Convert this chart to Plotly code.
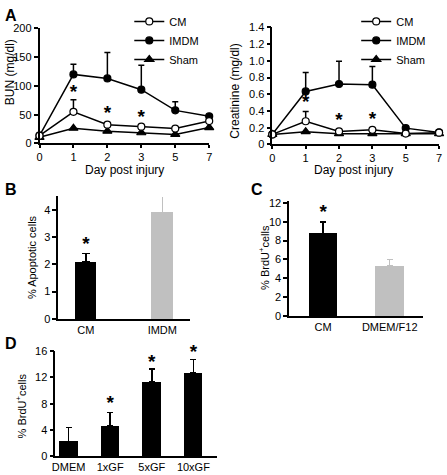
import plotly.graph_objects as go

# ---------------- data ----------------
days = ["0", "1", "2", "3", "5", "7"]

bun_cm = [13.5, 55, 32.6, 29.2, 25.9, 38.9]
bun_cm_err = [0, 21, 0, 0, 0, 0]
bun_imdm = [13.5, 120, 113, 93.5, 57.5, 47.3]
bun_imdm_err = [0, 17.5, 45, 42.3, 15.2, 0]
bun_sham = [10.7, 26.4, 21.3, 18.6, 15.7, 27.6]
bun_star_days = ["1", "2", "3"]
bun_star_y = [88, 51, 44]

cr_cm = [0.12, 0.277, 0.155, 0.175, 0.13, 0.14]
cr_cm_err = [0, 0.117, 0, 0, 0, 0]
cr_imdm = [0.12, 0.634, 0.723, 0.715, 0.195, 0.144]
cr_imdm_err = [0, 0.226, 0.272, 0.218, 0, 0]
cr_sham = [0.12, 0.152, 0.128, 0.128, 0.128, 0.128]
cr_star_days = ["1", "2", "3"]
cr_star_y = [0.49, 0.28, 0.29]

apo_groups = ["CM", "IMDM"]
apo_vals = [2.10, 3.90]
apo_err = [0.29, 0.56]
apo_star_groups = ["CM"]
apo_star_y = [2.68]

brdu_c_groups = ["CM", "DMEM/F12"]
brdu_c_vals = [8.76, 5.3]
brdu_c_err = [1.2, 0.7]
brdu_c_star_groups = ["CM"]
brdu_c_star_y = [10.85]

brdu_d_groups = ["DMEM", "1xGF", "5xGF", "10xGF"]
brdu_d_vals = [2.27, 4.64, 11.3, 12.64]
brdu_d_err = [2.08, 2.03, 2.0, 2.06]
brdu_d_star_groups = ["1xGF", "5xGF", "10xGF"]
brdu_d_star_y = [7.85, 14.2, 15.7]

# ---------------- styling ----------------
W, H = 447, 475
FONT = "Liberation Sans, Arial, sans-serif"
BLACK = "#000000"
GRAY = "#c0c0c0"


def px_x(a, b):
    return [a / W, b / W]


def px_y(top, bottom):
    return [1 - bottom / H, 1 - top / H]


fig = go.Figure()


def line_trace(y, err, name, symbol, fill, xa, ya, legend):
    kw = {}
    if err is not None:
        kw["error_y"] = dict(type="data", array=err, arrayminus=[0] * len(err),
                             symmetric=False, color=BLACK, thickness=1.5, width=3)
    return go.Scatter(
        x=days, y=y, name=name, mode="lines+markers",
        line=dict(color=BLACK, width=1.5),
        marker=dict(symbol=symbol, size=7 if symbol != "triangle-up" else 8,
                    color=fill, line=dict(color=BLACK, width=1.2)),
        xaxis=xa, yaxis=ya, legend=legend, cliponaxis=False, **kw)


def star_trace(xs, ys, xa, ya):
    return go.Scatter(x=xs, y=ys, mode="text", text=["<b>*</b>"] * len(xs),
                      textposition="middle center",
                      textfont=dict(family=FONT, size=19, color=BLACK),
                      xaxis=xa, yaxis=ya, showlegend=False, cliponaxis=False,
                      hoverinfo="skip")


# Panel A left (BUN)
fig.add_trace(line_trace(bun_sham, None, "Sham", "triangle-up", BLACK, "x", "y", "legend"))
fig.add_trace(line_trace(bun_imdm, bun_imdm_err, "IMDM", "circle", BLACK, "x", "y", "legend"))
fig.add_trace(line_trace(bun_cm, bun_cm_err, "CM", "circle", "white", "x", "y", "legend"))
fig.add_trace(star_trace(bun_star_days, bun_star_y, "x", "y"))

# Panel A right (Creatinine)
fig.add_trace(line_trace(cr_sham, None, "Sham", "triangle-up", BLACK, "x2", "y2", "legend2"))
fig.add_trace(line_trace(cr_imdm, cr_imdm_err, "IMDM", "circle", BLACK, "x2", "y2", "legend2"))
fig.add_trace(line_trace(cr_cm, cr_cm_err, "CM", "circle", "white", "x2", "y2", "legend2"))
fig.add_trace(star_trace(cr_star_days, cr_star_y, "x2", "y2"))


def bar_trace(groups, vals, err, colors, width, capw, xa, ya):
    return go.Bar(
        x=groups, y=vals, width=width,
        marker=dict(color=colors, line=dict(width=0)),
        error_y=dict(type="data", array=err, arrayminus=[0] * len(err),
                     symmetric=False, color=BLACK, thickness=1.5, width=capw),
        xaxis=xa, yaxis=ya, showlegend=False)


# Panel B
fig.add_trace(bar_trace(apo_groups[:1], apo_vals[:1], apo_err[:1], BLACK, 0.28, 4, "x3", "y3"))
b2 = bar_trace(apo_groups[1:], apo_vals[1:], apo_err[1:], GRAY, 0.28, 0, "x3", "y3")
b2.error_y.color = GRAY
fig.add_trace(b2)
fig.add_trace(star_trace(apo_star_groups, apo_star_y, "x3", "y3"))

# Panel C
fig.add_trace(bar_trace(brdu_c_groups[:1], brdu_c_vals[:1], brdu_c_err[:1], BLACK, 0.43, 3, "x4", "y4"))
c2 = bar_trace(brdu_c_groups[1:], brdu_c_vals[1:], brdu_c_err[1:], GRAY, 0.43, 3, "x4", "y4")
c2.error_y.color = GRAY
fig.add_trace(c2)
fig.add_trace(star_trace(brdu_c_star_groups, brdu_c_star_y, "x4", "y4"))

# Panel D
fig.add_trace(bar_trace(brdu_d_groups, brdu_d_vals, brdu_d_err, BLACK, 0.45, 3, "x5", "y5"))
fig.add_trace(star_trace(brdu_d_star_groups, brdu_d_star_y, "x5", "y5"))

tickfont = dict(family=FONT, size=11, color=BLACK)
axbase = dict(showline=True, linecolor=BLACK, linewidth=1.5, showgrid=False,
              zeroline=False, tickfont=tickfont, ticks="outside", ticklen=4,
              tickwidth=1.5, tickcolor=BLACK, fixedrange=True)

fig.update_layout(
    width=W, height=H, margin=dict(l=0, r=0, t=0, b=0),
    paper_bgcolor="white", plot_bgcolor="white",
    font=dict(family=FONT, size=11, color=BLACK),
    bargap=0,
    xaxis=dict(axbase, domain=px_x(37, 209), type="category", ticklen=3,
               categoryorder="array", categoryarray=days, range=[0, 5], anchor="y"),
    yaxis=dict(axbase, domain=px_y(23, 141), range=[0, 200],
               tickvals=[0, 50, 100, 150, 200], anchor="x"),
    xaxis2=dict(axbase, domain=px_x(273, 442), type="category", ticklen=3,
                categoryorder="array", categoryarray=days, range=[0, 5], anchor="y2"),
    yaxis2=dict(axbase, domain=px_y(22, 142), range=[0, 1.4],
                tickvals=[0, 0.2, 0.4, 0.6, 0.8, 1.0, 1.2, 1.4],
                ticktext=["0", "0.2", "0.4", "0.6", "0.8", "1.0", "1.2", "1.4"], anchor="x2"),
    xaxis3=dict(axbase, domain=px_x(56, 190), type="category", ticks="",
                range=[-0.361, 1.368], anchor="y3"),
    yaxis3=dict(axbase, domain=px_y(195, 321), range=[0, 4.5],
                tickvals=[0, 1, 2, 3, 4], anchor="x3"),
    xaxis4=dict(axbase, domain=px_x(290, 426), type="category", ticks="",
                range=[-0.511, 1.504], anchor="y4"),
    yaxis4=dict(axbase, domain=px_y(200, 318), range=[0, 12.2],
                tickvals=[0, 2, 4, 6, 8, 10, 12], anchor="x4"),
    xaxis5=dict(axbase, domain=px_x(53, 217), type="category", ticks="",
                range=[-0.32, 3.57], anchor="y5"),
    yaxis5=dict(axbase, domain=px_y(354, 462), range=[0, 16],
                tickvals=[0, 4, 8, 12, 16], anchor="x5"),
    legend=dict(x=128 / W, y=1 - 1 / H, xanchor="left", yanchor="top",
                font=dict(family=FONT, size=11, color=BLACK),
                bgcolor="rgba(0,0,0,0)", itemwidth=30, traceorder="reversed"),
    legend2=dict(x=358 / W, y=1 - 1 / H, xanchor="left", yanchor="top",
                 font=dict(family=FONT, size=11, color=BLACK),
                 bgcolor="rgba(0,0,0,0)", itemwidth=30, traceorder="reversed"),
)

annots = [
    ("A", 8, 10, 0, 16, True), ("B", 8, 188, 0, 16, True),
    ("C", 257, 188, 0, 16, True), ("D", 8, 346, 0, 16, True),
    ("Day post injury", 123, 168, 0, 12, False),
    ("Day post injury", 355, 168, 0, 12, False),
    ("BUN (mg/dl)", 7, 68, -90, 12, False),
    ("Creatinine (mg/dl)", 235, 87, -90, 12, False),
    ("% Apoptotic cells", 30, 258, -90, 11, False),
    ("% BrdU<sup>+</sup>cells", 265, 258, -90, 11, False),
    ("% BrdU<sup>+</sup>cells", 18, 410, -90, 11, False),
]
for txt, x, y, ang, size, bold in annots:
    fig.add_annotation(
        text=f"<b>{txt}</b>" if bold else txt, x=x / W, y=1 - y / H,
        xref="paper", yref="paper", xanchor="center", yanchor="middle",
        textangle=ang, showarrow=False,
        font=dict(family=FONT, size=size, color=BLACK))

fig.write_html(
    "out.html",
    config={"displayModeBar": False},
    post_script="document.body.style.margin='0';document.body.style.padding='0';"
                "document.documentElement.style.overflow='hidden';",
)
